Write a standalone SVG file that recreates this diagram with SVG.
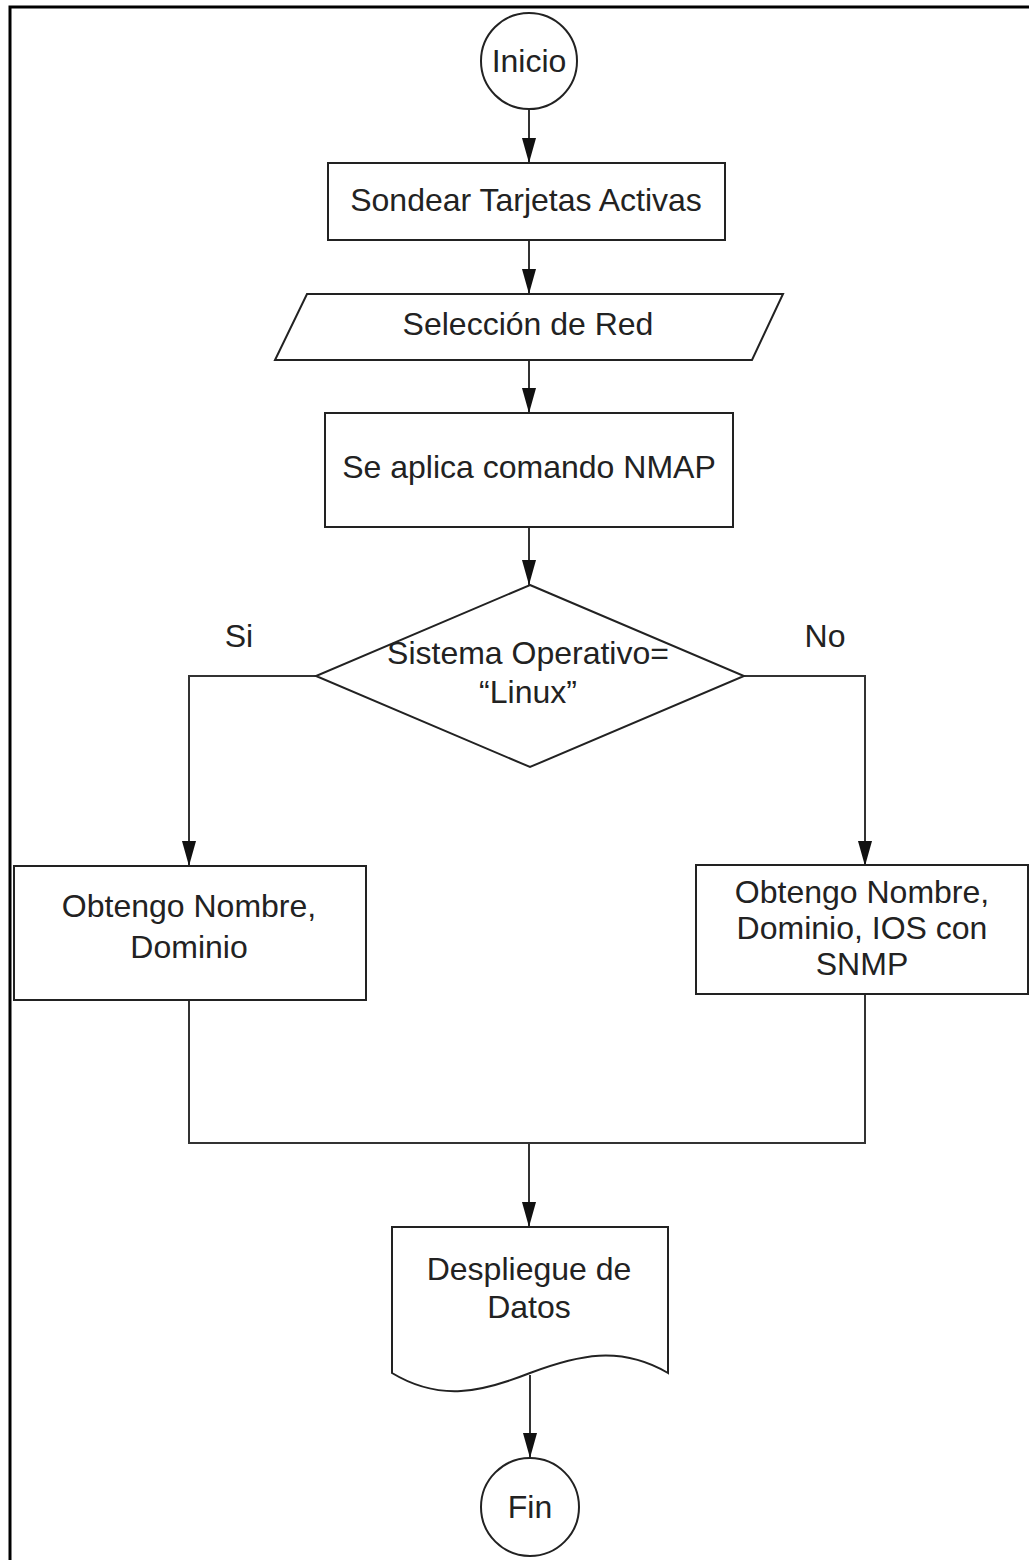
<svg xmlns="http://www.w3.org/2000/svg" width="1029" height="1560" viewBox="0 0 1029 1560">
  <style>
    .shape { fill: #ffffff; stroke: #222222; stroke-width: 2; }
    .line { fill: none; stroke: #333333; stroke-width: 2; }
    .label { font-family: "Liberation Sans", Arial, sans-serif; font-size: 32px; fill: #222222; text-anchor: middle; }
    .frame { fill: none; stroke: #000000; stroke-width: 3; }
  </style>
  <defs>
    <marker id="arrow" markerUnits="userSpaceOnUse" markerWidth="25" markerHeight="14" refX="25" refY="7" orient="auto">
      <path d="M0,0 L25,7 L0,14 z" fill="#111111"/>
    </marker>
  </defs>

  <rect width="1029" height="1560" fill="#ffffff"/>
  <!-- page frame (top and left edges) -->
  <path class="frame" d="M10,1560 V7 H1029"/>

  <!-- connectors -->
  <g id="connectors">
    <path class="line" d="M529,110 V163" marker-end="url(#arrow)"/>
    <path class="line" d="M529,240 V294" marker-end="url(#arrow)"/>
    <path class="line" d="M529,360 V413" marker-end="url(#arrow)"/>
    <path class="line" d="M529,527 V585" marker-end="url(#arrow)"/>
    <path class="line" d="M316,676 H189 V866" marker-end="url(#arrow)"/>
    <path class="line" d="M744,676 H865 V866" marker-end="url(#arrow)"/>
    <path class="line" d="M189,1000 V1143 H865 V994"/>
    <path class="line" d="M529,1143 V1227" marker-end="url(#arrow)"/>
    <path class="line" d="M530,1375 V1458" marker-end="url(#arrow)"/>
    <text class="label" x="239" y="647">Si</text>
    <text class="label" x="825" y="647">No</text>
  </g>

  <g id="inicio">
    <circle class="shape" cx="529" cy="61" r="48"/>
    <text class="label" x="529" y="72">Inicio</text>
  </g>

  <g id="sondear">
    <rect class="shape" x="328" y="163" width="397" height="77"/>
    <text class="label" x="526" y="211">Sondear Tarjetas Activas</text>
  </g>

  <g id="seleccion">
    <polygon class="shape" points="307,294 783,294 752,360 275,360"/>
    <text class="label" x="528" y="335">Selección de Red</text>
  </g>

  <g id="nmap">
    <rect class="shape" x="325" y="413" width="408" height="114"/>
    <text class="label" x="529" y="478">Se aplica comando NMAP</text>
  </g>

  <g id="decision">
    <polygon class="shape" points="530,585 744,676 530,767 316,676"/>
    <text class="label" x="528" y="664">Sistema Operativo=</text>
    <text class="label" x="528" y="703">“Linux”</text>
  </g>

  <g id="linux">
    <rect class="shape" x="14" y="866" width="352" height="134"/>
    <text class="label" x="189" y="917">Obtengo Nombre,</text>
    <text class="label" x="189" y="958">Dominio</text>
  </g>

  <g id="snmp">
    <rect class="shape" x="696" y="865" width="332" height="129"/>
    <text class="label" x="862" y="903">Obtengo Nombre,</text>
    <text class="label" x="862" y="939">Dominio, IOS con</text>
    <text class="label" x="862" y="975">SNMP</text>
  </g>

  <g id="despliegue">
    <path class="shape" d="M392,1227 H668 V1373 C620,1345 578,1355 530,1373 C482,1392 440,1402 392,1373 Z"/>
    <text class="label" x="529" y="1280">Despliegue de</text>
    <text class="label" x="529" y="1318">Datos</text>
  </g>

  <g id="fin">
    <circle class="shape" cx="530" cy="1507" r="49"/>
    <text class="label" x="530" y="1518">Fin</text>
  </g>
</svg>
